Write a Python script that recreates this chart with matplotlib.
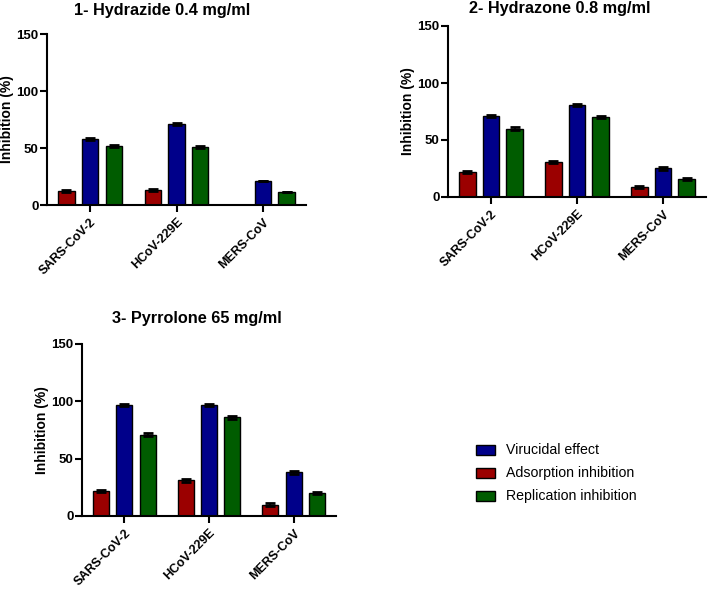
import numpy as np
import matplotlib.pyplot as plt

plt.rcParams['font.family'] = ['Liberation Sans', 'DejaVu Sans']

viruses = ['SARS-CoV-2', 'HCoV-229E', 'MERS-CoV']
titles = ['1- Hydrazide 0.4 mg/ml', '2- Hydrazone 0.8 mg/ml', '3- Pyrrolone 65 mg/ml']

# order within a group: adsorption, virucidal, replication
adsorption = [[12, 13, 0], [22, 31, 9], [22, 31, 10]]
virucidal = [[58, 71, 21], [71, 81, 25], [97, 97, 38]]
replication = [[52, 51, 11], [60, 70, 16], [71, 86, 20]]
errors = [[1, 1, 0], [1, 1, 1], [1, 1, 1]]

c_red = '#9b0000'
c_blue = '#00008a'
c_green = '#005c00'

W, H = 709, 589
fig = plt.figure(figsize=(W / 100, H / 100), dpi=100)

# pixel boxes: left, right, top, bottom
boxes = [(47, 306, 34, 205), (448, 706, 26, 197), (82, 336, 344, 516)]
title_pos = [(162, 11), (560, 9), (197, 318)]

x = np.arange(len(viruses))
bw = 0.19
off = 0.275

for i in range(3):
    l, r, t, b = boxes[i]
    ax = fig.add_axes([l / W, 1 - b / H, (r - l) / W, (b - t) / H])
    ek = dict(ecolor='black', elinewidth=1.2, capsize=3.5, capthick=2)
    ax.bar(x - off, adsorption[i], bw, color=c_red, edgecolor='black', linewidth=1,
           yerr=[e if v > 0 else 0 for e, v in zip(errors[i], adsorption[i])], error_kw=ek)
    ax.bar(x, virucidal[i], bw, color=c_blue, edgecolor='black', linewidth=1,
           yerr=errors[i], error_kw=ek)
    ax.bar(x + off, replication[i], bw, color=c_green, edgecolor='black', linewidth=1,
           yerr=errors[i], error_kw=ek)
    ax.set_xlim(-0.5, 2.5)
    ax.set_ylim(0, 150)
    ax.set_yticks([0, 50, 100, 150])
    ax.set_xticks(x)
    ax.set_xticklabels(viruses, rotation=45, ha='right', rotation_mode='anchor',
                       fontsize=9, fontweight='bold')
    for lab in ax.get_yticklabels():
        lab.set_fontweight('bold')
        lab.set_fontsize(9.5)
    ax.spines['top'].set_visible(False)
    ax.spines['right'].set_visible(False)
    ax.spines['left'].set_linewidth(1.5)
    ax.spines['bottom'].set_linewidth(1.5)
    ax.tick_params(direction='out', length=5, width=1.5)
    ax.tick_params(axis='y', pad=1)
    ax.tick_params(axis='x', pad=3)
    ax.set_ylabel('Inhibition (%)', fontsize=10, fontweight='bold', labelpad=2)
    tx, ty = title_pos[i]
    fig.text(tx / W, 1 - ty / H, titles[i], ha='center', va='center',
             fontsize=11.7, fontweight='bold')

# legend
leg_items = [('Virucidal effect', c_blue), ('Adsorption inhibition', c_red),
             ('Replication inhibition', c_green)]
lax = fig.add_axes([0, 0, 1, 1])
lax.set_xlim(0, W)
lax.set_ylim(H, 0)
lax.axis('off')
for j, (name, col) in enumerate(leg_items):
    yc = 450 + j * 23
    lax.add_patch(plt.Rectangle((476, yc - 5), 19, 10, facecolor=col,
                                edgecolor='black', linewidth=1))
    lax.text(506, yc, name, va='center', ha='left', fontsize=10.2)

fig.savefig('out.png', dpi=100)
